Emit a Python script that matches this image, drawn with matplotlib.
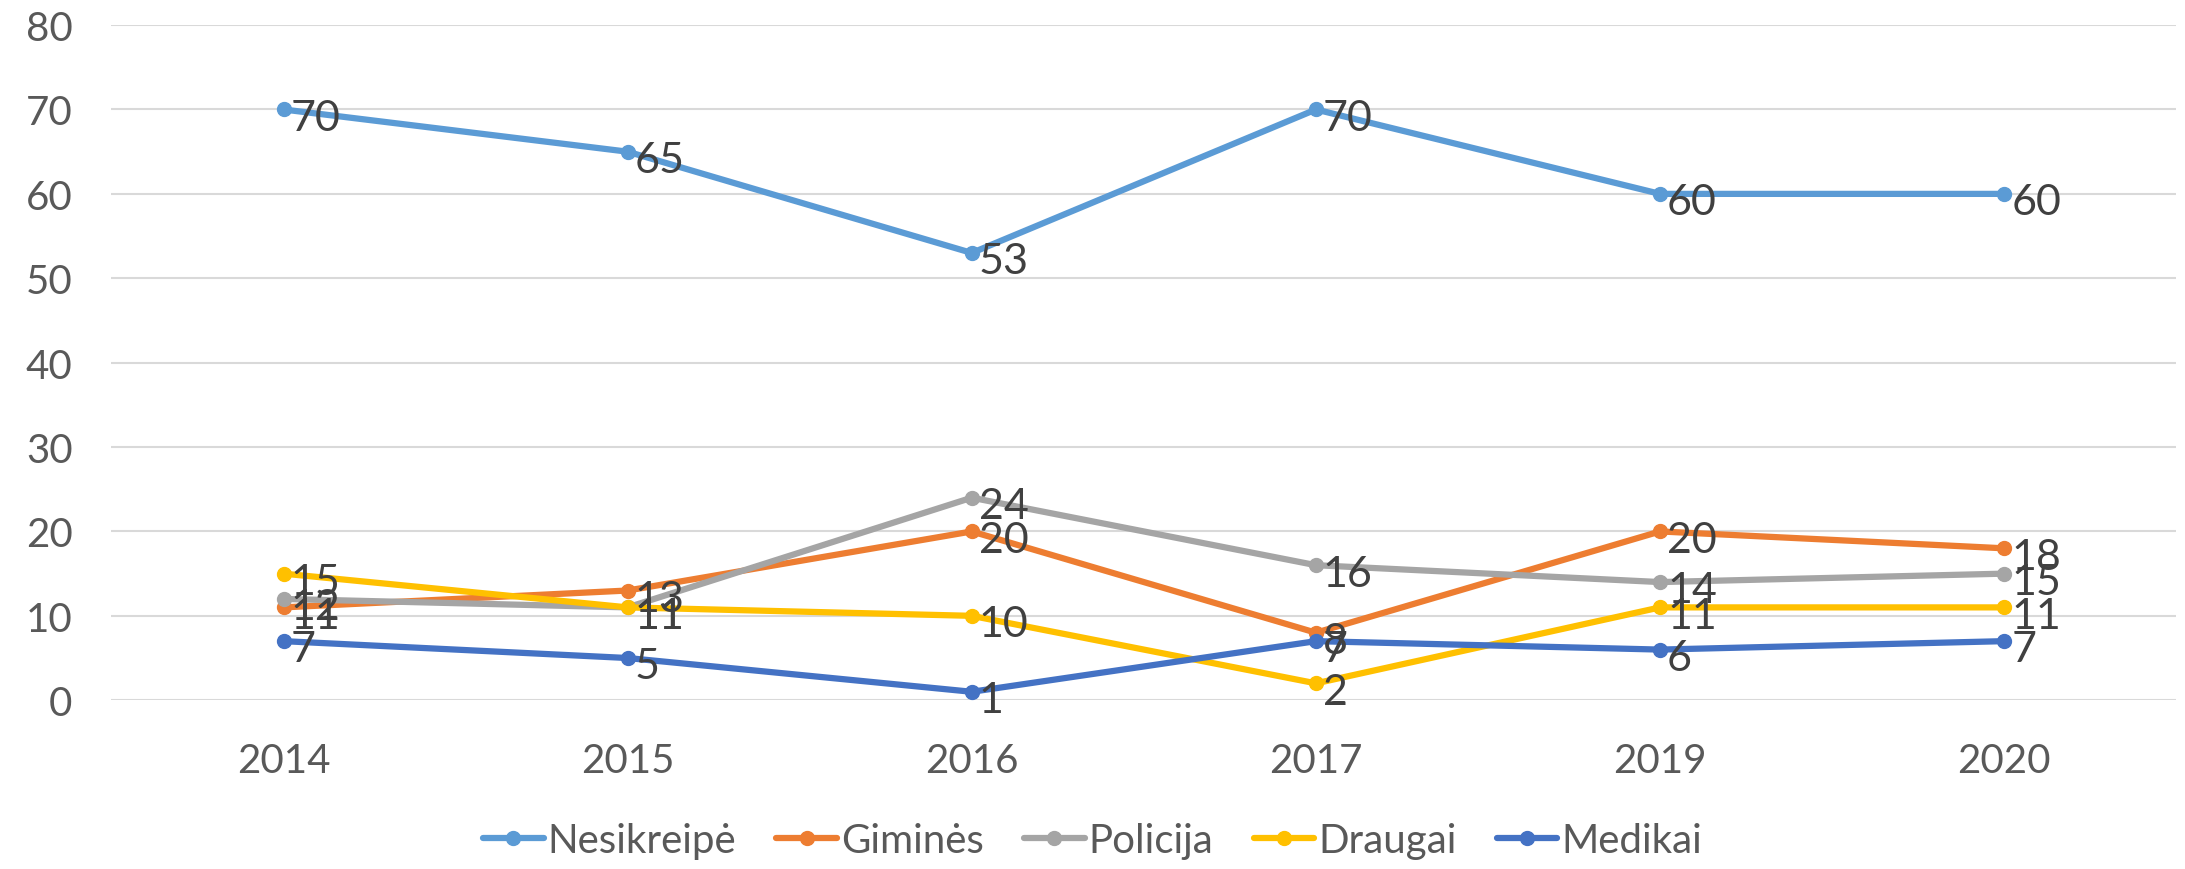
import matplotlib.pyplot as plt

plt.rcParams['font.family'] = ['Lato', 'DejaVu Sans']

years = ['2014', '2015', '2016', '2017', '2019', '2020']
nesikreipe = [70, 65, 53, 70, 60, 60]
gimines = [11, 13, 20, 8, 20, 18]
policija = [12, 11, 24, 16, 14, 15]
draugai = [15, 11, 10, 2, 11, 11]
medikai = [7, 5, 1, 7, 6, 7]

series = [
    ('Nesikreipė', nesikreipe, '#5B9BD5'),
    ('Giminės', gimines, '#ED7D31'),
    ('Policija', policija, '#A5A5A5'),
    ('Draugai', draugai, '#FFC000'),
    ('Medikai', medikai, '#4472C4'),
]

fig = plt.figure(figsize=(21.85, 8.7), dpi=100)
ax = fig.add_axes([0.051, 0.194, 0.945, 0.776])

x = list(range(len(years)))
for name, vals, col in series:
    ax.plot(x, vals, color=col, lw=4.5, marker='o', ms=10, label=name,
            solid_capstyle='round')
    for xi, v in zip(x, vals):
        ax.annotate(str(v), (xi, v), xytext=(5, -6), textcoords='offset points',
                    ha='left', va='center', fontsize=31, color='#404040')

ax.set_xlim(-0.5, len(years) - 0.5)
ax.set_ylim(0, 80)
ax.set_yticks(range(0, 81, 10))
ax.set_xticks(x)
ax.set_xticklabels(years)
ax.grid(axis='y', color='#D9D9D9', lw=1.5)
ax.set_axisbelow(True)
for s in ax.spines.values():
    s.set_visible(False)
ax.tick_params(axis='both', length=0, labelsize=29, labelcolor='#595959')
ax.tick_params(axis='x', pad=30)
ax.tick_params(axis='y', pad=28)

handles, labels = ax.get_legend_handles_labels()
fig.legend(handles, labels, loc='center', bbox_to_anchor=(0.5, 0.033), ncol=5,
           frameon=False, fontsize=29, handlelength=1.5, handletextpad=0.1,
           columnspacing=1.0, labelcolor='#595959', borderpad=0)

fig.savefig('out.png', dpi=100)
